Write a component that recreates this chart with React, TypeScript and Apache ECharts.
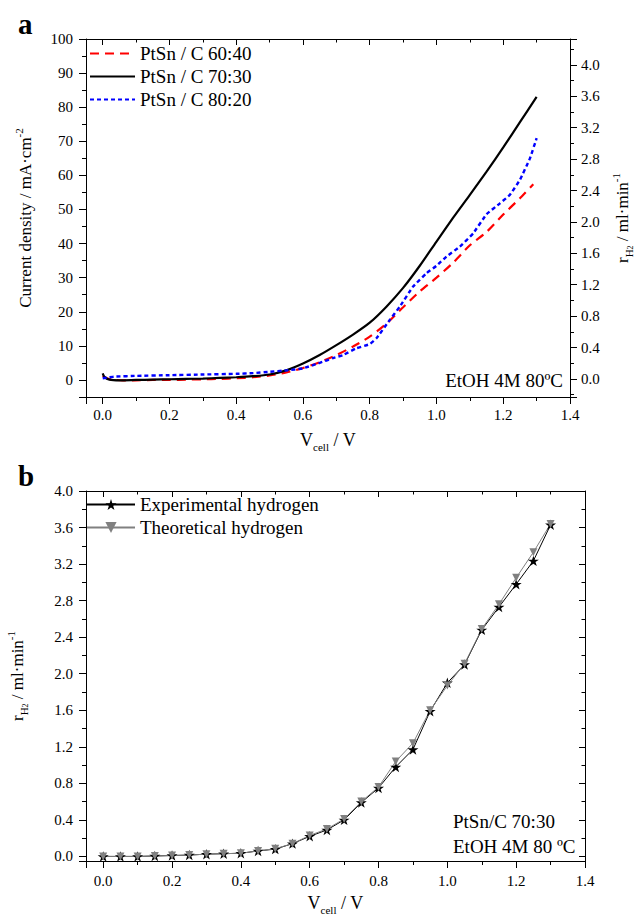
import React, { useEffect, useRef } from 'react';
import * as echarts from 'echarts';

const FONT = 'Liberation Serif, Times New Roman, serif';

// ---------- Panel a: polarisation curves ----------
const namesA = ['PtSn / C 60:40', 'PtSn / C 70:30', 'PtSn / C 80:20'];

const x6040 = [0, 0.01, 0.03, 0.06, 0.1, 0.15, 0.2, 0.25, 0.3, 0.35, 0.4, 0.45, 0.5, 0.55, 0.6, 0.65, 0.7, 0.75, 0.8, 0.85, 0.9, 0.95, 1.0, 1.05, 1.1, 1.15, 1.2, 1.25, 1.29];
const y6040 = [1.2, 0.6, 0.1, -0.1, -0.1, 0.0, 0.0, 0.1, 0.2, 0.3, 0.5, 0.8, 1.3, 2.2, 3.5, 5.2, 7.3, 9.8, 12.7, 16.5, 21.3, 26.0, 30.0, 34.4, 39.5, 43.4, 48.5, 53.3, 57.4];

const x7030 = [0, 0.005, 0.02, 0.05, 0.1, 0.15, 0.2, 0.25, 0.3, 0.35, 0.4, 0.45, 0.5, 0.55, 0.6, 0.65, 0.7, 0.75, 0.8, 0.85, 0.9, 0.95, 1.0, 1.05, 1.1, 1.15, 1.2, 1.25, 1.3];
const y7030 = [1.9, 0.9, 0.1, -0.1, 0.0, 0.1, 0.2, 0.3, 0.4, 0.6, 0.8, 1.1, 1.6, 2.8, 4.8, 7.3, 10.2, 13.3, 16.8, 21.5, 27.0, 33.5, 40.6, 47.6, 54.3, 61.1, 68.2, 75.6, 83.0];

const x8020 = [0, 0.02, 0.04, 0.1, 0.2, 0.3, 0.4, 0.45, 0.5, 0.55, 0.6, 0.65, 0.69, 0.72, 0.76, 0.8, 0.82, 0.86, 0.89, 0.93, 0.97, 1.0, 1.03, 1.07, 1.11, 1.15, 1.19, 1.22, 1.25, 1.28, 1.3];
const y8020 = [0.5, 0.8, 1.0, 1.2, 1.4, 1.6, 1.8, 2.0, 2.4, 2.8, 3.4, 5.0, 6.4, 7.3, 9.3, 10.5, 12.2, 17.6, 21.5, 27.4, 31.3, 33.5, 36.2, 39.1, 43.0, 48.6, 51.8, 54.3, 58.7, 65.0, 70.9];

// ---------- Panel b: hydrogen production ----------
const namesB = ['Experimental hydrogen', 'Theoretical hydrogen'];
const vCellB = [0, 0.05, 0.1, 0.15, 0.2, 0.25, 0.3, 0.35, 0.4, 0.45, 0.5, 0.55, 0.6, 0.65, 0.7, 0.75, 0.8, 0.85, 0.9, 0.95, 1.0, 1.05, 1.1, 1.15, 1.2, 1.25, 1.3];
const expH2 = [0.0, 0.0, 0.0, 0.005, 0.01, 0.015, 0.025, 0.03, 0.035, 0.06, 0.08, 0.14, 0.22, 0.29, 0.40, 0.59, 0.75, 0.98, 1.17, 1.59, 1.90, 2.10, 2.48, 2.73, 2.98, 3.235, 3.63];
const theoH2 = [0.0, 0.0, 0.0, 0.005, 0.01, 0.015, 0.025, 0.03, 0.035, 0.06, 0.085, 0.14, 0.23, 0.30, 0.41, 0.60, 0.76, 1.04, 1.24, 1.60, 1.87, 2.11, 2.49, 2.76, 3.05, 3.33, 3.64];

const noteA = 'EtOH 4M 80ºC';
const noteB1 = 'PtSn/C 70:30';
const noteB2 = 'EtOH 4M 80 ºC';

const STAR = 'path://M50,0L61.23,34.55L97.55,34.55L68.17,55.9L79.39,90.45L50,69.1L20.61,90.45L31.83,55.9L2.45,34.55L38.77,34.55Z';

const pairs = (xs: number[], ys: number[]) => xs.map((x, i) => [x, ys[i]]);

const fmt = (step: number, dec: number) => (v: number) => {
  const r = v / step;
  return Math.abs(r - Math.round(r)) < 1e-6 ? `{t|${v.toFixed(dec)}}` : '';
};

const tickRich = { t: { fontFamily: FONT, fontSize: 15, color: '#000' } };
const legendRich = { t: { fontFamily: FONT, fontSize: 19, color: '#000' } };

const rich = {
  sub: { fontFamily: FONT, fontSize: 11, verticalAlign: 'bottom', lineHeight: 11, color: '#000' },
  sub2: { fontFamily: FONT, fontSize: 8, verticalAlign: 'bottom', lineHeight: 6, color: '#000' },
  sup: { fontFamily: FONT, fontSize: 11, verticalAlign: 'top', lineHeight: 10, color: '#000' },
};

function axis(o: any) {
  const {
    grid, pos, min, max, step, dec, inside, labels, length = 7, minorLen = 4, margin = 10,
    name, nameGap, nameSize = 18,
  } = o;
  return {
    type: 'value',
    gridIndex: grid,
    position: pos,
    min,
    max,
    minInterval: step,
    maxInterval: step,
    axisLine: { show: true, onZero: false, lineStyle: { color: '#000', width: 1 } },
    splitLine: { show: false },
    axisTick: { show: true, inside, length, lineStyle: { color: '#000', width: 1 } },
    minorTick: { show: true, splitNumber: 2, length: minorLen, lineStyle: { color: '#000', width: 1 } },
    axisLabel: {
      show: labels,
      margin,
      fontFamily: FONT,
      fontSize: 15,
      color: '#000',
      formatter: fmt(step, dec),
      rich: tickRich,
    },
    name: name || '',
    nameLocation: 'middle',
    nameGap: nameGap || 0,
    nameRotate: pos === 'left' || pos === 'right' ? 90 : 0,
    nameTextStyle: { fontFamily: FONT, fontSize: nameSize, color: '#000', lineHeight: 24, rich },
  };
}

export default function App() {
  const ref = useRef<HTMLDivElement>(null);

  useEffect(() => {
    document.body.style.margin = '0';
    if (!ref.current) return;
    const chart = echarts.init(ref.current, null, { renderer: 'svg' });

    const option: any = {
      animation: false,
      backgroundColor: '#fff',
      textStyle: { fontFamily: FONT },
      grid: [
        { left: 86, top: 39, width: 484, height: 358, containLabel: false, outerBoundsMode: 'none' },
        { left: 86, top: 491, width: 499, height: 370, containLabel: false, outerBoundsMode: 'none' },
      ],
      xAxis: [
        axis({ grid: 0, pos: 'bottom', min: -0.05, max: 1.4, step: 0.2, dec: 1, inside: false, labels: true, margin: 10,
          name: 'V{sub|cell} / V', nameGap: 31 }),
        axis({ grid: 0, pos: 'top', min: -0.05, max: 1.4, step: 0.2, dec: 1, inside: true, labels: false, length: 6, minorLen: 3.5 }),
        axis({ grid: 1, pos: 'bottom', min: -0.05, max: 1.4, step: 0.2, dec: 1, inside: false, labels: true, margin: 12,
          name: 'V{sub|cell} / V', nameGap: 30 }),
        axis({ grid: 1, pos: 'top', min: -0.05, max: 1.4, step: 0.2, dec: 1, inside: true, labels: false, length: 6, minorLen: 3.5 }),
      ],
      yAxis: [
        axis({ grid: 0, pos: 'left', min: -5, max: 100, step: 10, dec: 0, inside: false, labels: true, margin: 13,
          name: 'Current density / mA·cm{sup|-2}', nameGap: 49, nameSize: 17 }),
        axis({ grid: 0, pos: 'right', min: -0.23, max: 4.33, step: 0.4, dec: 1, inside: false, labels: true, margin: 11,
          name: 'r{sub|H}{sub2|2} / ml·min{sup|-1}', nameGap: 39, nameSize: 17 }),
        axis({ grid: 1, pos: 'left', min: -0.05, max: 4.0, step: 0.4, dec: 1, inside: false, labels: true, margin: 13,
          name: 'r{sub|H}{sub2|2} / ml·min{sup|-1}', nameGap: 57, nameSize: 17 }),
        axis({ grid: 1, pos: 'right', min: -0.05, max: 4.0, step: 0.4, dec: 1, inside: true, labels: false, length: 6, minorLen: 3.5 }),
      ],
      legend: [
        {
          data: namesA,
          orient: 'vertical',
          left: 89,
          top: 44,
          padding: 0,
          itemWidth: 45,
          itemHeight: 14,
          itemGap: 4,
          selectedMode: false,
          itemStyle: { opacity: 0 },
          formatter: (n: string) => `{t|${n}}`,
          textStyle: { fontFamily: FONT, fontSize: 19, color: '#000', rich: legendRich },
        },
        {
          data: namesB,
          orient: 'vertical',
          left: 86,
          top: 495,
          padding: 0,
          itemWidth: 48,
          itemHeight: 14,
          itemGap: 4,
          selectedMode: false,
          formatter: (n: string) => `{t|${n}}`,
          textStyle: { fontFamily: FONT, fontSize: 19, color: '#000', rich: legendRich },
        },
      ],
      series: [
        {
          name: namesA[0], type: 'line', xAxisIndex: 0, yAxisIndex: 0, data: pairs(x6040, y6040),
          symbol: 'none', smooth: 0.25, color: '#ff0000',
          lineStyle: { color: '#ff0000', width: 2.2, type: [9, 6] },
        },
        {
          name: namesA[1], type: 'line', xAxisIndex: 0, yAxisIndex: 0, data: pairs(x7030, y7030),
          symbol: 'none', smooth: 0.25, color: '#000',
          lineStyle: { color: '#000', width: 2.2, type: 'solid' },
        },
        {
          name: namesA[2], type: 'line', xAxisIndex: 0, yAxisIndex: 0, data: pairs(x8020, y8020),
          symbol: 'none', smooth: 0.1, color: '#0000ff',
          lineStyle: { color: '#0000ff', width: 2.4, type: [4, 3] },
        },
        {
          name: namesB[0], type: 'line', xAxisIndex: 2, yAxisIndex: 2, data: pairs(vCellB, expH2),
          symbol: STAR, symbolKeepAspect: true, symbolSize: 11, color: '#000',
          itemStyle: { color: '#000' },
          lineStyle: { color: '#000', width: 1 },
        },
        {
          name: namesB[1], type: 'line', xAxisIndex: 2, yAxisIndex: 2, data: pairs(vCellB, theoH2),
          symbol: 'triangle', symbolRotate: 180, symbolSize: 8, color: '#808080',
          itemStyle: { color: '#808080' },
          lineStyle: { color: '#808080', width: 1 },
        },
      ],
      graphic: [
        { type: 'text', x: 18, y: 24, style: { text: 'a', font: `bold 29px ${FONT}`, fill: '#000', verticalAlign: 'middle' } },
        { type: 'text', x: 18, y: 476, style: { text: 'b', font: `bold 29px ${FONT}`, fill: '#000', verticalAlign: 'middle' } },
        { type: 'text', x: 563, y: 380, style: { text: noteA, font: `19px ${FONT}`, fill: '#000', align: 'right', verticalAlign: 'middle' } },
        { type: 'text', x: 453, y: 821, style: { text: noteB1, font: `19px ${FONT}`, fill: '#000', align: 'left', verticalAlign: 'middle' } },
        { type: 'text', x: 453, y: 846, style: { text: noteB2, font: `19px ${FONT}`, fill: '#000', align: 'left', verticalAlign: 'middle' } },
      ],
    };

    chart.setOption(option);
    return () => chart.dispose();
  }, []);

  return (
    <div
      ref={ref}
      style={{ position: 'absolute', left: 0, top: 0, width: 635, height: 916, background: '#fff' }}
    />
  );
}
